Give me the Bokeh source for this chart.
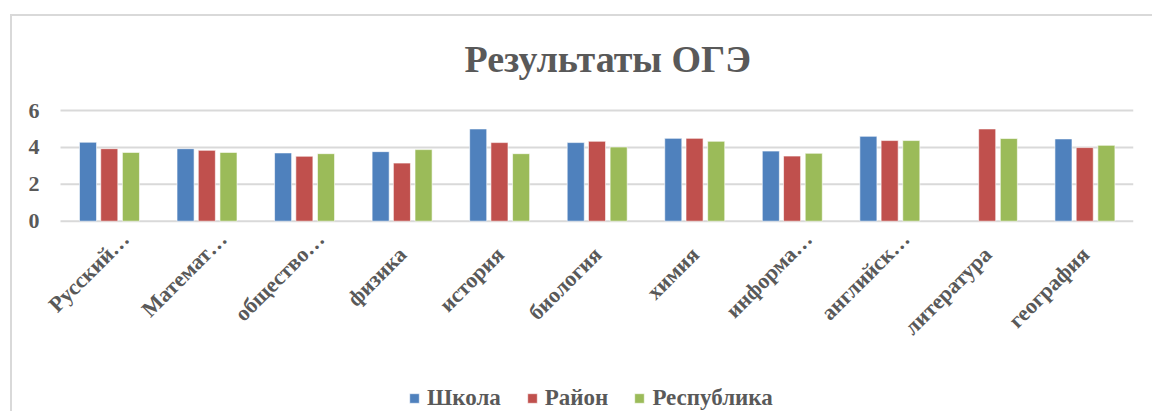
from bokeh.plotting import figure
from bokeh.layouts import column
from bokeh.models import (Range1d, Legend, LegendItem, ColumnDataSource, Label)
from bokeh.transform import dodge
from bokeh.embed import file_html
from bokeh.resources import INLINE
from bokeh.core.properties import value
import math

subjects = ["Русский язык", "Математика", "обществознание", "физика", "история",
            "биология", "химия", "информатика", "английский язык", "литература", "география"]
tick_labels = ["Русский…", "Математ…", "обществo…", "физика", "история",
               "биология", "химия", "информа…", "английск…", "литература", "география"]
school = [4.28, 3.93, 3.70, 3.77, 5.00, 4.26, 4.49, 3.80, 4.60, float("nan"), 4.46]
district = [3.93, 3.84, 3.52, 3.15, 4.26, 4.33, 4.49, 3.53, 4.37, 5.00, 3.99]
republic = [3.73, 3.73, 3.66, 3.88, 3.66, 4.02, 4.33, 3.68, 4.37, 4.48, 4.11]
series_names = ["Школа", "Район", "Республика"]
y_ticks = [0, 2, 4, 6]
title_text = "Результаты ОГЭ"

FONT = "Liberation Serif"
GRAY = "#595959"
GRID = "#D9D9D9"
colors = ["#4F81BD", "#C0504D", "#9BBB59"]

n = len(subjects)
W, H = 1140, 395
MR = 19
PLOT_LEFT = 48           # px from canvas left where the category area starts
ZERO_PX = 204.7          # px from canvas top where the value 0 sits
PX_PER_Y = 18.45         # pixels per grade unit
PX_PER_X = (W - MR - PLOT_LEFT) / n
x_start = -PLOT_LEFT / PX_PER_X
y_top = ZERO_PX / PX_PER_Y
y_bot = -(H - ZERO_PX) / PX_PER_Y

shown = [t if t.endswith("…") else t + "\u00a0" * 4 for t in tick_labels]
src = ColumnDataSource(dict(name=subjects, xi=[i + 0.5 for i in range(n)],
                            s=school, d=district, r=republic))
lab_src = ColumnDataSource(dict(x=[i + 0.5 + 0.165 for i in range(n)],
                                y=[-14 / PX_PER_Y] * n, t=shown))
grid_src = ColumnDataSource(dict(x0=[0] * len(y_ticks), x1=[n] * len(y_ticks), y=y_ticks,
                                 xl=[-21 / PX_PER_X] * len(y_ticks),
                                 t=[str(v) for v in y_ticks]))

p = figure(x_range=Range1d(x_start, n), y_range=Range1d(y_bot, y_top),
           width=W, height=H, output_backend="svg", toolbar_location=None,
           x_axis_location=None, y_axis_location=None, title=None,
           min_border_left=0, min_border_right=MR, min_border_top=0,
           min_border_bottom=0)
p.outline_line_color = None
p.xgrid.grid_line_color = None
p.ygrid.grid_line_color = None

# value grid lines and their labels
p.segment(x0="x0", x1="x1", y0="y", y1="y", source=grid_src,
          line_color=GRID, line_width=2)
p.text(x="xl", y="y", text="t", source=grid_src, text_align="right",
       text_baseline="middle", text_font=value(FONT), text_font_size="22px",
       text_font_style="bold", text_color=GRAY)

bw = 0.175
offs = [-0.218, 0.0, 0.222]
cols = ["s", "d", "r"]
renderers = []
for c, off, col in zip(cols, offs, colors):
    r = p.vbar(x=dodge("xi", off), top=c, bottom=0, width=bw, source=src,
               fill_color=col, line_color="white", line_alpha=0.6, line_width=1)
    renderers.append(r)

# category labels, rotated 45°
p.text(x="x", y="y", text="t", source=lab_src, angle=math.pi / 4,
       text_align="right", text_baseline="middle", text_font=value(FONT),
       text_font_size="22px", text_font_style="bold", text_color=GRAY)

# title
p.add_layout(Label(x=n / 2 + 0.11, y=8.8,
                   text=title_text, text_align="center", text_baseline="alphabetic",
                   text_font=FONT, text_font_size="38px", text_font_style="bold",
                   text_color=GRAY))

legend = Legend(items=[LegendItem(label=nm, renderers=[r]) for nm, r in zip(series_names, renderers)],
                orientation="horizontal", location=(PLOT_LEFT + 348, 0))
legend.label_text_font = FONT
legend.label_text_font_size = "23px"
legend.label_text_font_style = "bold"
legend.label_text_color = GRAY
legend.glyph_width = 12
legend.glyph_height = 12
legend.spacing = 25
legend.label_standoff = 7
legend.padding = 0
legend.margin = 0
legend.border_line_color = None
legend.background_fill_alpha = 0
p.add_layout(legend, "center")

page = column(p, margin=(14, 0, 0, 10),
              styles={"border-top": "2px solid #D9D9D9", "border-left": "2px solid #D9D9D9"})

open("out.html", "w").write(file_html(page, INLINE))
